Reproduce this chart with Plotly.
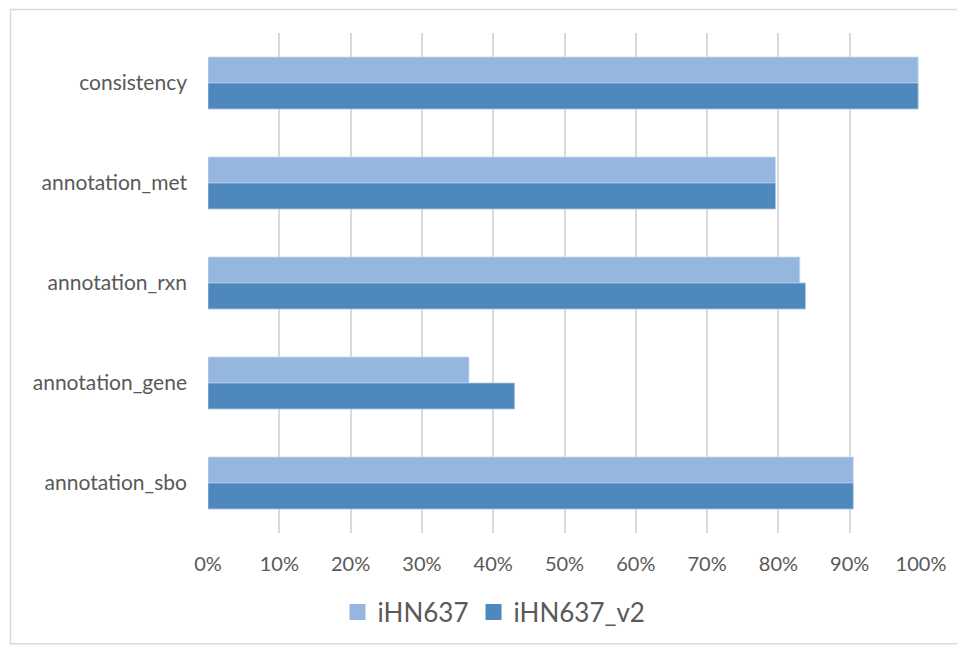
import plotly.graph_objects as go

# Share of checks passed per test category, for both model versions
categories = ["consistency", "annotation_met", "annotation_rxn",
              "annotation_gene", "annotation_sbo"]
ihn637 = [99.6, 79.6, 83.0, 36.6, 90.5]
ihn637_v2 = [99.6, 79.6, 83.8, 43.0, 90.5]
series_names = ["iHN637", "iHN637_v2"]
series_colors = ["#95B7DF", "#4F88BC"]
edge_colors = ["#C9DBEF", "#A9C6E4"]
x_ticks = list(range(0, 101, 10))
x_tick_labels = [f"{v}%" for v in x_ticks]

W, H = 957, 646
L, R, T, B = 208, 36, 33, 112
pw, ph = W - L - R, H - T - B


def px_x(p):
    return (p - L) / pw


def px_y(p):
    return (H - B - p) / ph


fig = go.Figure()
for name, vals, col, edge in zip(series_names, [ihn637, ihn637_v2],
                                 series_colors, edge_colors):
    fig.add_trace(go.Bar(
        y=categories, x=vals, name=name, orientation="h",
        marker=dict(color=col, line=dict(color=edge, width=0.8)),
        showlegend=False,
    ))
# square legend keys
for name, col in zip(series_names, series_colors):
    fig.add_trace(go.Scatter(
        x=[None], y=[None], mode="markers", name=name,
        marker=dict(symbol="square", size=16, color=col),
        showlegend=True,
    ))

font_family = "Lato, 'Open Sans', sans-serif"

fig.update_layout(
    width=W, height=H,
    margin=dict(l=L, r=R, t=T, b=B),
    paper_bgcolor="white", plot_bgcolor="white",
    barmode="group", bargap=0.48, bargroupgap=0,
    font=dict(family=font_family, color="#595959", size=20),
    xaxis=dict(
        range=[0, 100], tickvals=x_ticks, ticktext=x_tick_labels,
        showgrid=True, gridcolor="#D9D9D9", gridwidth=1.5,
        zeroline=False, showline=False, ticks="",
        ticklabelstandoff=17,
        tickfont=dict(size=20, color="#595959"),
    ),
    yaxis=dict(
        autorange="reversed", showgrid=False, zeroline=False,
        showline=False, ticks="", ticklabelstandoff=20,
        tickfont=dict(size=21, color="#595959"),
    ),
    legend=dict(
        orientation="h", x=px_x(494), y=px_y(612),
        xanchor="center", yanchor="middle",
        font=dict(size=26, color="#595959"),
        itemwidth=30, traceorder="normal",
    ),
    showlegend=True,
    shapes=[dict(
        type="rect", xref="paper", yref="paper",
        x0=px_x(10.5), x1=px_x(W + 10), y0=px_y(645), y1=px_y(9.5),
        line=dict(color="#D9D9D9", width=1.5), layer="below",
    )],
)

fig.write_html("out.html")
